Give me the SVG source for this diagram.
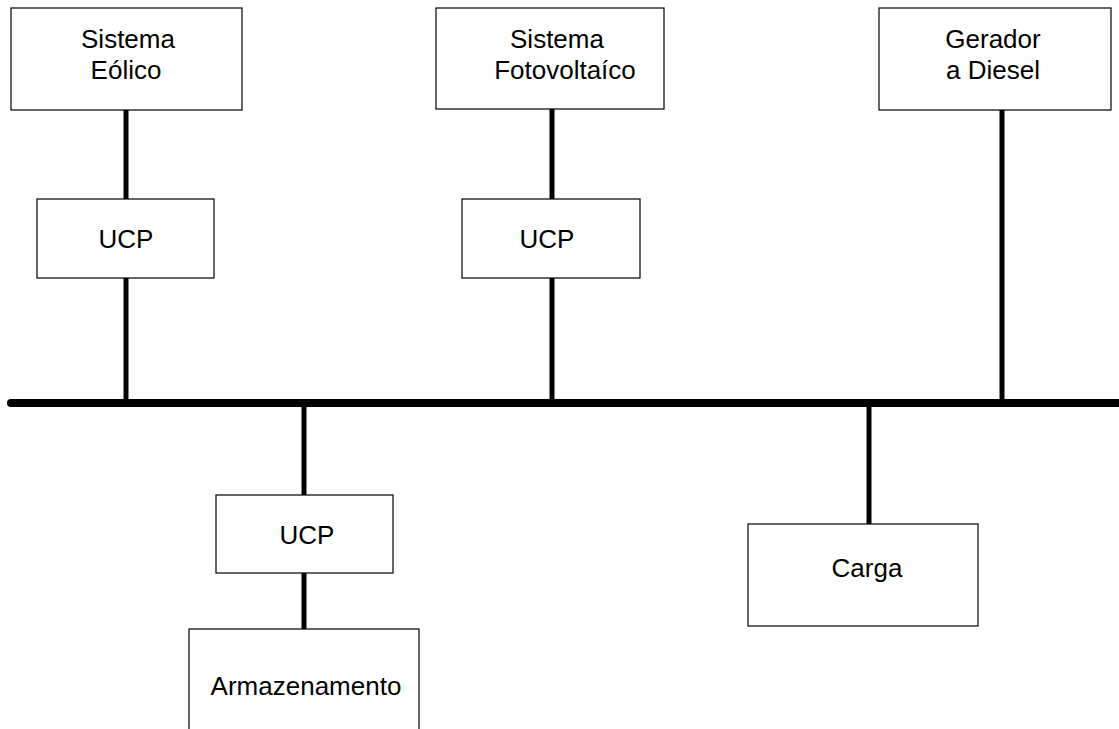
<svg xmlns="http://www.w3.org/2000/svg" width="1119" height="729" viewBox="0 0 1119 729">
<style>
.box{fill:#fff;stroke:#000;stroke-width:1.2}
.t{font-family:"Liberation Sans",Arial,sans-serif;font-size:26px;fill:#000;text-anchor:middle}
.c{stroke:#000;stroke-width:5;fill:none}
.bus{stroke:#000;stroke-width:8;stroke-linecap:round;fill:none}
</style>
<rect width="1119" height="729" fill="#fff"/>
<g id="connectors">
<line class="bus" x1="11" y1="403" x2="1125" y2="403"/>
<line class="c" x1="126" y1="110" x2="126" y2="199"/>
<line class="c" x1="126" y1="278" x2="126" y2="403"/>
<line class="c" x1="552" y1="109" x2="552" y2="199"/>
<line class="c" x1="552" y1="278" x2="552" y2="403"/>
<line class="c" x1="1002" y1="110" x2="1002" y2="403"/>
<line class="c" x1="304" y1="403" x2="304" y2="495"/>
<line class="c" x1="304" y1="573" x2="304" y2="630"/>
<line class="c" x1="869" y1="403" x2="869" y2="524"/>
</g>
<g id="eolico">
<rect class="box" x="11" y="8" width="231" height="102"/>
<text class="t" x="128" y="48">Sistema</text>
<text class="t" x="126" y="79">Eólico</text>
</g>
<g id="ucp1">
<rect class="box" x="37" y="199" width="177" height="79"/>
<text class="t" x="126" y="248">UCP</text>
</g>
<g id="fotovoltaico">
<rect class="box" x="436" y="8" width="228" height="101"/>
<text class="t" x="557" y="48">Sistema</text>
<text class="t" x="565" y="79">Fotovoltaíco</text>
</g>
<g id="ucp2">
<rect class="box" x="462" y="199" width="178" height="79"/>
<text class="t" x="547" y="248">UCP</text>
</g>
<g id="gerador">
<rect class="box" x="879" y="8" width="232" height="102"/>
<text class="t" x="993" y="48">Gerador</text>
<text class="t" x="993" y="79">a Diesel</text>
</g>
<g id="ucp3">
<rect class="box" x="216" y="495" width="177" height="78"/>
<text class="t" x="307" y="544">UCP</text>
</g>
<g id="armazenamento">
<rect class="box" x="189" y="629" width="230" height="110"/>
<text class="t" x="306" y="695">Armazenamento</text>
</g>
<g id="carga">
<rect class="box" x="748" y="524" width="230" height="102"/>
<text class="t" x="867" y="577">Carga</text>
</g>
</svg>
